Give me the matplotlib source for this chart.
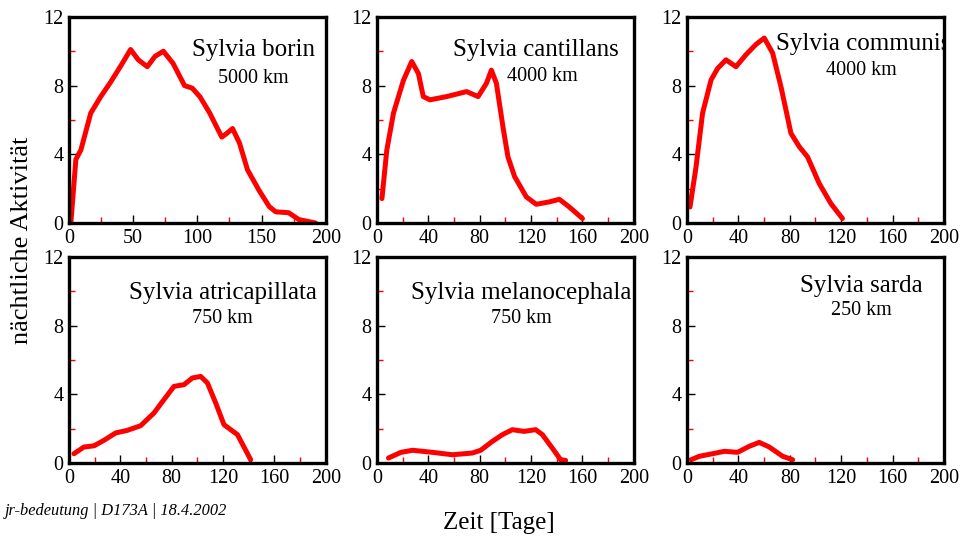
import matplotlib.pyplot as plt
import numpy as np

plt.rcParams['font.family'] = 'Liberation Serif'

# values (day, activity)
borin_x = [1.5, 5.4, 9.3, 17, 24.7, 32, 40, 48, 54, 61, 67, 73.5, 81, 90, 96, 102, 109.6, 119, 122.6,
           127.4, 132.8, 139, 148, 156, 161, 171, 179, 192]
borin_y = [0, 3.7, 4.25, 6.4, 7.35, 8.15, 9.1, 10.1, 9.5, 9.1, 9.7, 10.0, 9.3, 8.0, 7.85, 7.35, 6.4, 5.0, 5.2,
           5.5, 4.65, 3.1, 1.9, 0.95, 0.65, 0.6, 0.2, 0]

cant_x = [3.9, 7.7, 12.9, 20.6, 27.1, 32.3, 36.1, 41.3, 54.3, 69.8, 78.8, 85.3, 89.1, 93, 98.1, 102,
          107.2, 116.3, 124, 134.3, 142, 149.8, 160]
cant_y = [1.42, 4.25, 6.4, 8.3, 9.4, 8.7, 7.36, 7.17, 7.36, 7.65, 7.36, 8.14, 8.9, 8.14, 5.6, 3.85,
          2.7, 1.52, 1.09, 1.23, 1.38, 0.93, 0.26]

comm_x = [2.3, 7, 12.1, 18.7, 23.8, 30.3, 38.1, 45.9, 53.7, 60.1, 66.6, 73.1, 80.9, 87.4, 93.8, 102.9,
          112, 121]
comm_y = [0.93, 3.27, 6.4, 8.33, 9.0, 9.5, 9.1, 9.8, 10.4, 10.77, 9.9, 7.94, 5.22, 4.44, 3.85, 2.3,
          1.13, 0.26]

atri_x = [3.9, 11.7, 19.5, 27.3, 36.4, 45.5, 55.8, 66.2, 74, 81.8, 89.6, 96.1, 102.6, 107.8, 114.3,
          120.7, 131.2, 141.5]
atri_y = [0.54, 0.93, 1.0, 1.32, 1.75, 1.9, 2.17, 2.91, 3.69, 4.46, 4.56, 4.95, 5.04, 4.66, 3.49,
          2.23, 1.65, 0.19]

mela_x = [9, 18.7, 27.7, 43.2, 58.8, 74.3, 80.8, 89.9, 97.7, 105.4, 114.5, 123.6, 128.8, 136.5, 143, 146.9]
mela_y = [0.29, 0.62, 0.74, 0.62, 0.48, 0.58, 0.74, 1.26, 1.65, 1.94, 1.84, 1.94, 1.65, 0.87, 0.19, 0.15]

sard_x = [3.1, 9.6, 19.9, 29, 39.3, 48.4, 56.2, 64, 74.4, 82.2]
sard_y = [0.19, 0.39, 0.54, 0.68, 0.62, 0.97, 1.2, 0.93, 0.39, 0.19]

names = ['Sylvia borin', 'Sylvia cantillans', 'Sylvia communis',
         'Sylvia atricapillata', 'Sylvia melanocephala', 'Sylvia sarda']
distances = ['5000 km', '4000 km', '4000 km', '750 km', '750 km', '250 km']
series = [(borin_x, borin_y), (cant_x, cant_y), (comm_x, comm_y),
          (atri_x, atri_y), (mela_x, mela_y), (sard_x, sard_y)]

# label positions in data coords: (name x, name y, ha, km x, km y)
label_pos = [(143.6, 10.1, 'center', 143.6, 8.4),
             (124, 10.1, 'center', 129, 8.5),
             (69, 10.45, 'left', 135.6, 8.85),
             (119.7, 9.9, 'center', 119.7, 8.4),
             (112.4, 9.9, 'center', 112.4, 8.4),
             (135.6, 10.3, 'center', 135.6, 8.85)]

fig = plt.figure(figsize=(9.64, 5.41), dpi=100)

lefts = [0.0715, 0.391, 0.7127]
bottoms = [0.5878, 0.1442]
w, h = 0.2665, 0.381

for i, (xs, ys) in enumerate(series):
    ax = fig.add_axes([lefts[i % 3], bottoms[i // 3], w, h])
    ax.plot(xs, ys, color='#ff0000', lw=3.6, solid_joinstyle='round', solid_capstyle='round')
    ax.set_xlim(0, 200)
    ax.set_ylim(0, 12)
    if i == 0:
        ax.set_xticks([0, 50, 100, 150, 200])
        ax.set_xticks([25, 75, 125, 175], minor=True)
    else:
        ax.set_xticks([0, 40, 80, 120, 160, 200])
        ax.set_xticks([20, 60, 100, 140, 180], minor=True)
    ax.set_yticks([0, 4, 8, 12])
    ax.set_yticks([2, 6, 10], minor=True)
    ax.tick_params(which='major', direction='in', length=6, width=1, color='black',
                   labelsize=14.5, pad=4)
    ax.tick_params(which='minor', direction='in', length=4, width=1, color='red')
    for sp in ax.spines.values():
        sp.set_linewidth(2.4)
    nx, ny, ha, kx, ky = label_pos[i]
    ax.text(nx, ny, names[i], fontsize=18, ha=ha, va='center', clip_on=True)
    ax.text(kx, ky, distances[i], fontsize=14.5, ha='center', va='center')

fig.text(0.023, 0.555, 'nächtliche Aktivität', rotation=90, fontsize=19, ha='center', va='center')
fig.text(0.518, 0.033, 'Zeit [Tage]', fontsize=18, ha='center', va='center')
fig.text(0.005, 0.055, 'jr-bedeutung | D173A | 18.4.2002', fontsize=11.8, style='italic',
         ha='left', va='center')

fig.savefig('out.png', dpi=100)
